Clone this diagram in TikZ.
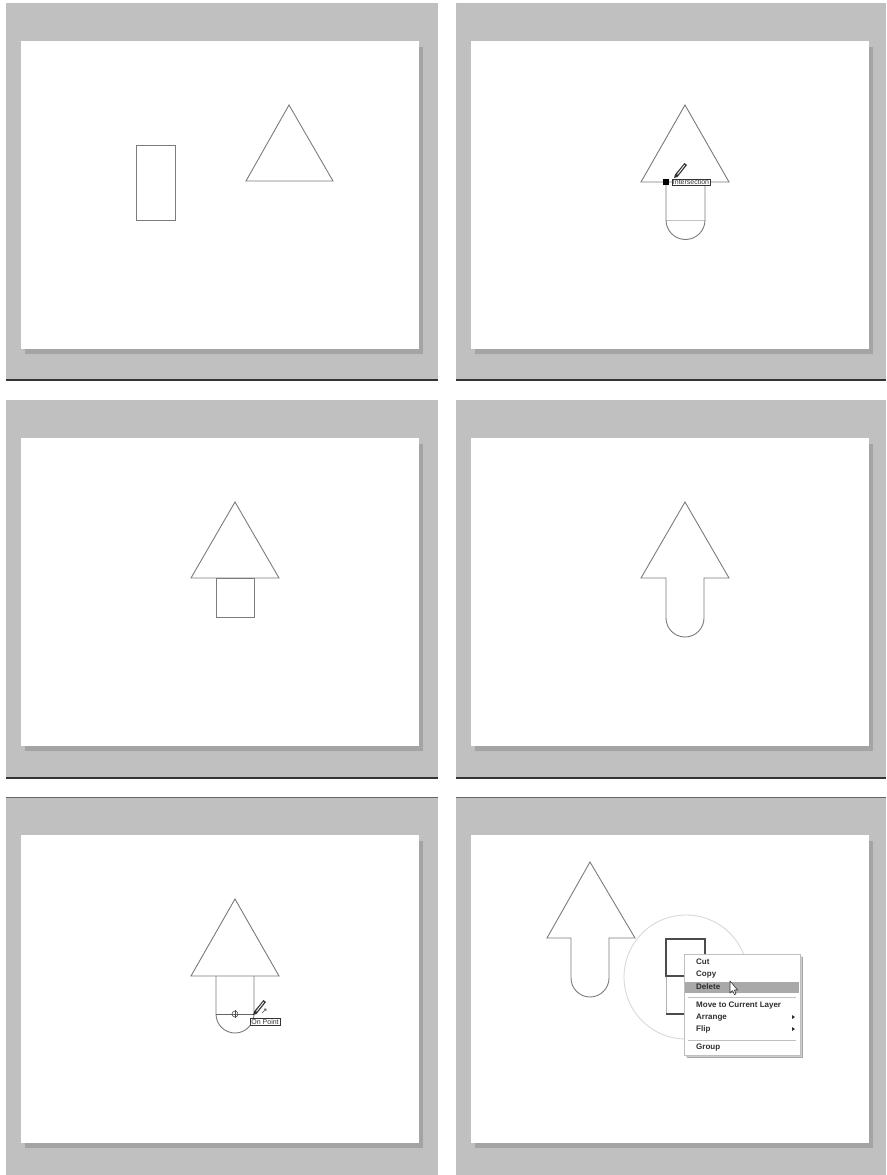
\documentclass[tikz,border=0pt]{standalone}
\usepackage{fontspec}
\newfontfamily\uifont{Liberation Sans}
\definecolor{panelgray}{HTML}{C0C0C0}
\definecolor{shadowgray}{HTML}{A4A4A4}
\definecolor{shapegray}{HTML}{7C7C7C}
\definecolor{darkline}{HTML}{333333}
\definecolor{menutext}{HTML}{2E2E2E}
\definecolor{hilite}{HTML}{A9A9A9}
\tikzset{
  outl/.style={draw=shapegray, line width=0.9pt, line join=miter},
  faint/.style={draw=shapegray!45, line width=0.8pt},
  thickmag/.style={draw=black!70, line width=1.8pt},
  menuitem/.style={anchor=west, inner sep=0pt, font=\uifont\bfseries\fontsize{8}{9}\selectfont, text=menutext, text height=6pt, text depth=1.5pt},
  tiplabel/.style={draw=black!80, fill=white, line width=0.5pt, inner xsep=1.2pt, inner ysep=0.8pt, font=\uifont\fontsize{7}{7}\selectfont, text=black!80, anchor=north west},
}
\newcommand{\panel}[4]{% x0 y0 x1 y1 of gray area
  \fill[panelgray] (#1,#2) rectangle (#3,#4);
  \draw[black!25, line width=0.8pt] (#1,#4) -- (#1,#2) -- (#3,#2);
  \fill[shadowgray!70] (#1+17,#2+42) rectangle (#1+419,#2+353);
  \fill[shadowgray] (#1+19,#2+44) rectangle (#1+417,#2+351);
  \fill[white] (#1+15,#2+38) rectangle (#1+413,#2+346);
}
\newcommand{\pencil}[2]{% tip at (#1,#2)
  \fill[black!80] (#1,#2) -- (#1+3.5,#2-1) -- (#1+13,#2-13) -- (#1+10.5,#2-15) -- (#1+1,#2-3.5) -- cycle;
  \fill[white] (#1+3.8,#2-3.4) -- (#1+11,#2-12.6) -- (#1+10.4,#2-13.2) -- (#1+3.2,#2-4) -- cycle;
}
\begin{document}
\begin{tikzpicture}[x=1pt,y=-1pt]
\useasboundingbox (0,0) rectangle (886,1175);
\fill[white] (0,0) rectangle (886,1175);

% ---------- panels ----------
\panel{6}{3}{438}{380}
\panel{456}{3}{886}{380}
\panel{6}{400}{438}{778}
\panel{456}{400}{886}{778}
\panel{6}{797}{438}{1175}
\panel{456}{797}{886}{1175}
\draw[darkline, line width=1.2pt] (6,380) -- (438,380);
\draw[darkline, line width=1.2pt] (456,380) -- (886,380);
\draw[darkline, line width=1.2pt] (6,778) -- (438,778);
\draw[darkline, line width=1.2pt] (456,778) -- (886,778);
\draw[black!60, line width=1pt] (6,797) -- (438,797);
\draw[black!60, line width=1pt] (456,797) -- (886,797);

% ---------- panel 1 ----------
\draw[outl] (136,145) rectangle (175,220);
\draw[outl] (246,181) -- (289,105) -- (333,181) -- cycle;

% ---------- panel 2 ----------
\draw[faint] (666,220) -- (705,220);
\draw[outl] (666,182) -- (666,220) arc[start angle=180, end angle=0, radius=19.5] -- (705,182);
\draw[outl] (641,182) -- (685,105) -- (729,182) -- cycle;
\fill[black] (663,179) rectangle (669,185);
\pencil{674}{178}
\node[tiplabel] (lblint) at (671.5,178.5) {Intersection};

% ---------- panel 3 ----------
\draw[outl] (191,578) -- (235,502) -- (279,578) -- cycle;
\draw[outl] (216,578) rectangle (254,617);

% ---------- panel 4 ----------
\draw[outl] (641,578) -- (685,502) -- (729,578) -- (704,578) -- (704,618)
  arc[start angle=0, end angle=180, radius=19] -- (666,578) -- cycle;

% ---------- panel 5 ----------
\draw[outl] (191,976) -- (235,899) -- (279,976) -- cycle;
\draw[outl] (216,976) -- (216,1014) arc[start angle=180, end angle=0, radius=19] -- (254,976);
\draw[outl, draw=black!60] (216,1014) -- (254,1014);
\draw[black!70, line width=0.6pt] (235,1014) circle[radius=3];
\draw[black!70, line width=0.6pt] (235,1010) -- (235,1018);
\pencil{253}{1015}
\draw[black!70, line width=0.6pt] (262,1013) -- (266,1009) (264,1009) -- (266,1009) -- (266,1011);
\node[tiplabel] (lblpt) at (250,1018) {On Point};

% ---------- panel 6 ----------
\draw[outl] (547,938) -- (590,862) -- (635,938) -- (609,938) -- (609,978)
  arc[start angle=0, end angle=180, radius=19] -- (571,938) -- cycle;
% magnifier
\fill[white] (686,977) circle[radius=62];
\draw[black!15, line width=0.9pt] (686,977) circle[radius=62];
\draw[black!30, line width=0.8pt] (666,976) -- (666,1014);
\draw[thickmag] (688,976) -- (666,976) -- (666,939) -- (705,939) -- (705,955);
\draw[thickmag] (666,1014) -- (688,1014);
% context menu
\fill[black!35] (686.5,956.5) rectangle (802.5,1057.5);
\fill[black!20] (685.5,955.5) rectangle (801.5,1056.5);
\filldraw[fill=white, draw=black!25, line width=0.6pt] (684,954) rectangle (800,1055);
\fill[hilite] (685,982) rectangle (799,992.5);
\draw[black!25, line width=0.7pt] (688,997.5) -- (796,997.5);
\draw[black!25, line width=0.7pt] (688,1040) -- (796,1040);
\node[menuitem] (mcut)    at (696,962)  {Cut};
\node[menuitem] (mcopy)   at (696,974.5) {Copy};
\node[menuitem] (mdel)    at (696,987)  {Delete};
\node[menuitem] (mmove)   at (696,1005) {Move to Current Layer};
\node[menuitem] (marr)    at (696,1017) {Arrange};
\node[menuitem] (mflip)   at (696,1029) {Flip};
\node[menuitem] (mgroup)  at (696,1047) {Group};
\fill[menutext] (792,1015) -- (795,1017) -- (792,1019) -- cycle;
\fill[menutext] (792,1027) -- (795,1029) -- (792,1031) -- cycle;
% mouse cursor
\filldraw[fill=white, draw=black!80, line width=0.6pt, line join=round]
  (730,981) -- (730,993) -- (732.6,990.6) -- (734.4,994.6) -- (736,993.8) -- (734.3,990) -- (737.6,990) -- cycle;
\end{tikzpicture}
\end{document}
